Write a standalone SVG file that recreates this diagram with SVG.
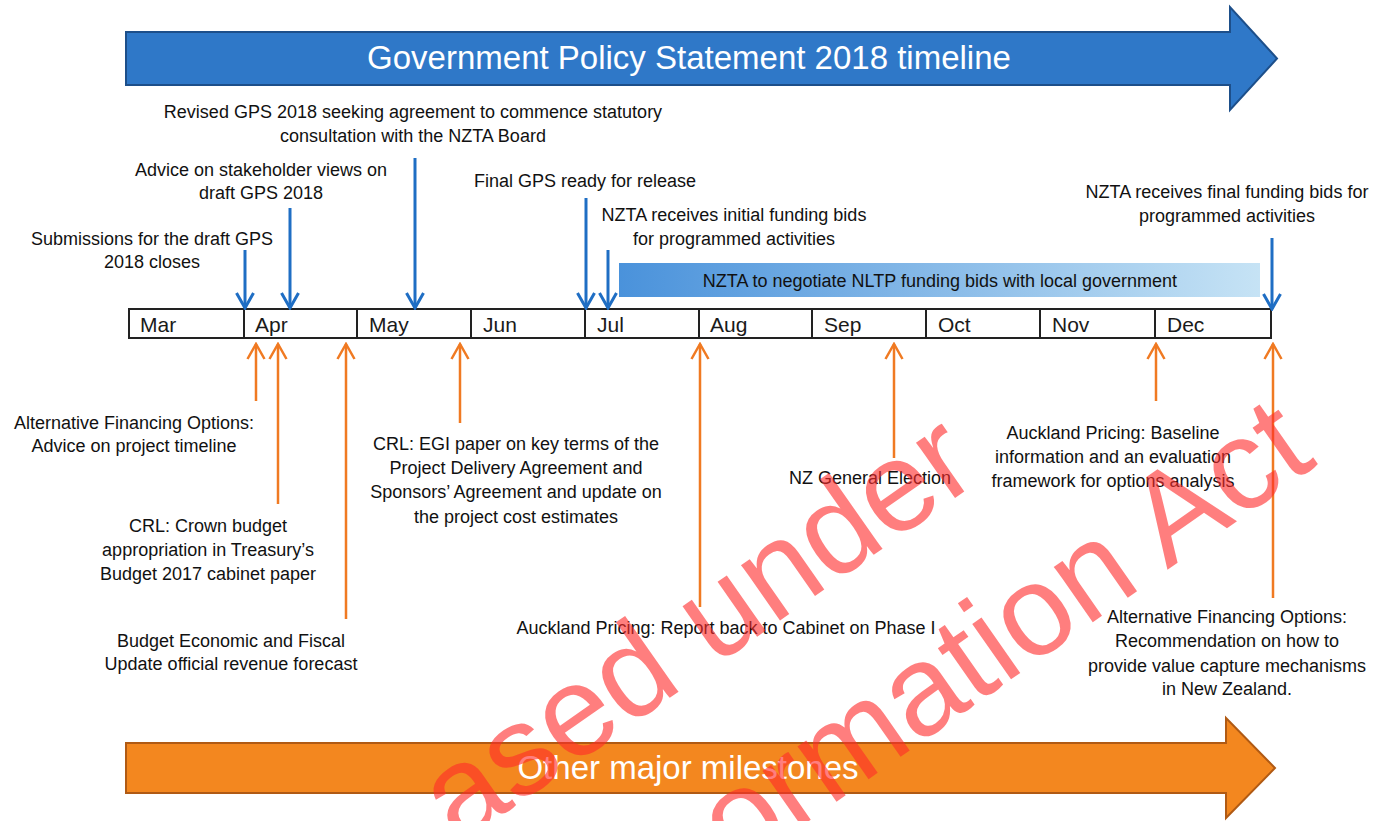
<svg xmlns="http://www.w3.org/2000/svg" width="1388" height="821" viewBox="0 0 1388 821">
<defs>
<style>
.lbl{font-family:"Liberation Sans",Arial,sans-serif;font-size:18px;fill:#111;text-anchor:middle}
.mon{font-family:"Liberation Sans",Arial,sans-serif;font-size:21px;fill:#1a1a1a}
.ttl{font-family:"Liberation Sans",Arial,sans-serif;fill:#fff;text-anchor:middle}
.blue{stroke:#1f6ec4;stroke-width:3;fill:none}
.orng{stroke:#f07a22;stroke-width:2.5;fill:none}
.wm{font-family:"Liberation Sans",Arial,sans-serif;font-size:128px;fill:#ff2a2a;opacity:0.6}
</style>
<marker id="hb" viewBox="0 0 18 20" refX="16" refY="10" markerWidth="18" markerHeight="20" markerUnits="userSpaceOnUse" orient="auto">
<path d="M1,1.5 L16,10 L1,18.5" stroke="#1f6ec4" stroke-width="3" fill="none"/>
</marker>
<marker id="ho" viewBox="0 0 18 20" refX="16" refY="10" markerWidth="18" markerHeight="20" markerUnits="userSpaceOnUse" orient="auto">
<path d="M1,1.5 L16,10 L1,18.5" stroke="#f07a22" stroke-width="2.5" fill="none"/>
</marker>
<linearGradient id="band" x1="0" y1="0" x2="1" y2="0">
<stop offset="0" stop-color="#4a92db"/>
<stop offset="1" stop-color="#c6e3f5"/>
</linearGradient>
</defs>

<g id="gps-arrow">
<path d="M126,32 L1230,32 L1230,7 L1277,58.5 L1230,110 L1230,85 L126,85 Z" fill="#2f78c8" stroke="#1d4f8a" stroke-width="2"/>
<text class="ttl" x="689" y="69" font-size="33">Government Policy Statement 2018 timeline</text>
</g>

<g id="other-arrow">
<path d="M126,743 L1226,743 L1226,718 L1275,768 L1226,818 L1226,793 L126,793 Z" fill="#f3871f" stroke="#b05a14" stroke-width="2"/>
<text class="ttl" x="688" y="779" font-size="33">Other major milestones</text>
</g>

<g id="nltp-band">
<rect x="619" y="263" width="641" height="34" fill="url(#band)"/>
<text class="lbl" x="940" y="287" font-size="20">NZTA to negotiate NLTP funding bids with local government</text>
</g>

<g id="timeline">
<rect x="129" y="309" width="1142" height="29" fill="#fff" stroke="#222" stroke-width="2"/>
<path d="M244,309V338M357,309V338M471,309V338M585,309V338M699,309V338M812,309V338M926,309V338M1040,309V338M1155,309V338" stroke="#222" stroke-width="2"/>
<text class="mon" x="140" y="332">Mar</text>
<text class="mon" x="255" y="332">Apr</text>
<text class="mon" x="369" y="332">May</text>
<text class="mon" x="483" y="332">Jun</text>
<text class="mon" x="597" y="332">Jul</text>
<text class="mon" x="710" y="332">Aug</text>
<text class="mon" x="824" y="332">Sep</text>
<text class="mon" x="938" y="332">Oct</text>
<text class="mon" x="1052" y="332">Nov</text>
<text class="mon" x="1167" y="332">Dec</text>
</g>

<g id="connectors">
<line class="blue" x1="245" y1="250" x2="245" y2="308" marker-end="url(#hb)"/>
<line class="blue" x1="290" y1="208" x2="290" y2="308" marker-end="url(#hb)"/>
<line class="blue" x1="415" y1="158" x2="415" y2="308" marker-end="url(#hb)"/>
<line class="blue" x1="586" y1="198" x2="586" y2="308" marker-end="url(#hb)"/>
<line class="blue" x1="608" y1="250" x2="608" y2="308" marker-end="url(#hb)"/>
<line class="blue" x1="1272" y1="238" x2="1272" y2="309" marker-end="url(#hb)"/>
<line class="orng" x1="256" y1="401" x2="256" y2="344" marker-end="url(#ho)"/>
<line class="orng" x1="278" y1="504" x2="278" y2="344" marker-end="url(#ho)"/>
<line class="orng" x1="346" y1="619" x2="346" y2="344" marker-end="url(#ho)"/>
<line class="orng" x1="460" y1="423" x2="460" y2="344" marker-end="url(#ho)"/>
<line class="orng" x1="700" y1="607" x2="700" y2="344" marker-end="url(#ho)"/>
<line class="orng" x1="894" y1="458" x2="894" y2="344" marker-end="url(#ho)"/>
<line class="orng" x1="1156" y1="401" x2="1156" y2="344" marker-end="url(#ho)"/>
<line class="orng" x1="1273" y1="598" x2="1273" y2="344" marker-end="url(#ho)"/>
</g>

<g id="m-revised"><text class="lbl" x="413" y="118">Revised GPS 2018 seeking agreement to commence statutory</text><text class="lbl" x="413" y="142">consultation with the NZTA Board</text></g>
<g id="m-advice"><text class="lbl" x="261" y="176">Advice on stakeholder views on</text><text class="lbl" x="261" y="199">draft GPS 2018</text></g>
<g id="m-final"><text class="lbl" x="585" y="187">Final GPS ready for release</text></g>
<g id="m-submissions"><text class="lbl" x="152" y="245">Submissions for the draft GPS</text><text class="lbl" x="152" y="268">2018 closes</text></g>
<g id="m-initial"><text class="lbl" x="734" y="221">NZTA receives initial funding bids</text><text class="lbl" x="734" y="245">for programmed activities</text></g>
<g id="m-finalbids"><text class="lbl" x="1227" y="198">NZTA receives final funding bids for</text><text class="lbl" x="1227" y="222">programmed activities</text></g>

<g id="o-altfin"><text class="lbl" x="134" y="429">Alternative Financing Options:</text><text class="lbl" x="134" y="452">Advice on project timeline</text></g>
<g id="o-crown"><text class="lbl" x="208" y="532">CRL: Crown budget</text><text class="lbl" x="208" y="556">appropriation in Treasury’s</text><text class="lbl" x="208" y="580">Budget 2017 cabinet paper</text></g>
<g id="o-befu"><text class="lbl" x="231" y="647">Budget Economic and Fiscal</text><text class="lbl" x="231" y="670">Update official revenue forecast</text></g>
<g id="o-egi"><text class="lbl" x="516" y="450">CRL: EGI paper on key terms of the</text><text class="lbl" x="516" y="474">Project Delivery Agreement and</text><text class="lbl" x="516" y="498">Sponsors’ Agreement and update on</text><text class="lbl" x="516" y="523">the project cost estimates</text></g>
<g id="o-report"><text class="lbl" x="726" y="634">Auckland Pricing: Report back to Cabinet on Phase I</text></g>
<g id="o-election"><text class="lbl" x="870" y="484">NZ General Election</text></g>
<g id="o-baseline"><text class="lbl" x="1113" y="439">Auckland Pricing: Baseline</text><text class="lbl" x="1113" y="463">information and an evaluation</text><text class="lbl" x="1113" y="487">framework for options analysis</text></g>
<g id="o-valuecap"><text class="lbl" x="1227" y="623">Alternative Financing Options:</text><text class="lbl" x="1227" y="647">Recommendation on how to</text><text class="lbl" x="1227" y="672">provide value capture mechanisms</text><text class="lbl" x="1227" y="695">in New Zealand.</text></g>

<g id="watermark">
<text class="wm" transform="translate(458,846) rotate(-35)">ased under</text>
<text class="wm" transform="translate(736,872) rotate(-35)">ormation Act</text>
</g>
</svg>
